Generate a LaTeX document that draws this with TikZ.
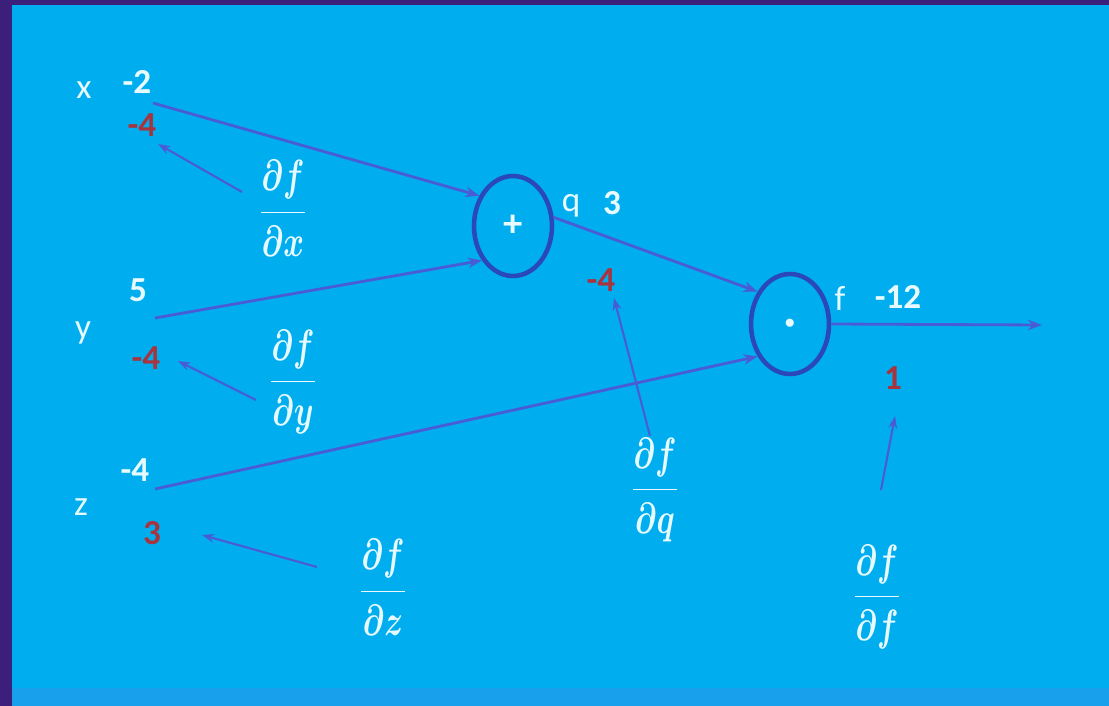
\documentclass[tikz,border=0pt]{standalone}
\usepackage{fontspec}
\usepackage{graphicx}
\setmainfont{Carlito}
\usetikzlibrary{arrows.meta,shapes.geometric}
\definecolor{bg}{HTML}{00AEEF}
\definecolor{framec}{HTML}{3B1F7A}
\definecolor{edge}{HTML}{4A5BD6}
\definecolor{ring}{HTML}{2A48BA}
\definecolor{txt}{HTML}{E6FAFF}
\definecolor{gradc}{HTML}{A8343E}
\definecolor{strip}{HTML}{18A0EC}
\newcommand{\pfrac}[1]{\scalebox{0.72}[1]{\boldmath$\displaystyle\frac{\partial f}{\partial #1}$}}
\begin{document}
\begin{tikzpicture}[x=0.02cm,y=-0.02cm,
  lbl/.style={text=txt,font=\fontsize{20}{22}\selectfont,inner sep=0pt},
  num/.style={text=txt,font=\fontsize{20}{22}\selectfont\bfseries,inner sep=0pt},
  gradv/.style={text=gradc,font=\fontsize{20}{22}\selectfont\bfseries,inner sep=0pt},
  fracn/.style={text=txt,font=\fontsize{25}{27}\selectfont,inner sep=0pt},
  wire/.style={draw=edge,line width=1.6pt,-{Stealth[length=8pt,width=6pt]}},
  back/.style={draw=edge,line width=1.2pt,-{Stealth[length=7pt,width=5pt]}},
  gate/.style={draw=ring,line width=2.6pt,ellipse,minimum width=1.56cm,minimum height=2.0cm,inner sep=0pt,text=txt,font=\fontsize{22}{24}\selectfont\bfseries}]
\useasboundingbox (0,0) rectangle (1109,706);
% background and frame
\fill[framec] (0,0) rectangle (1109,706);
\fill[bg] (12,5) rectangle (1109,688);
\fill[strip] (12,688) rectangle (1109,706);
% gates
\node[gate] (add) at (513,226) {+};
\node[gate,font=\fontsize{13}{15}\selectfont] (mul) at (790,324) {$\bullet$};
% inputs
\node[lbl] (xn) at (84,90) {x};
\node[num] (xv) at (137,82) {-2};
\node[gradv] (xg) at (142,125) {-4};
\coordinate (xo) at (153,103);
\node[lbl] (yn) at (83,333) {y};
\node[num] (yv) at (138,290) {5};
\node[gradv] (yg) at (146,358) {-4};
\coordinate (yo) at (155,318);
\node[lbl] (zn) at (81,507) {z};
\node[num] (zv) at (135,470) {-4};
\node[gradv] (zg) at (152,533) {3};
\coordinate (zo) at (155,489);
% intermediate and output
\node[lbl] (qn) at (571,206) {q};
\node[num] (qv) at (612,203) {3};
\node[gradv] (qg) at (601,280) {-4};
\node[lbl] (fn) at (840,298) {f};
\node[num] (fv) at (898,297) {-12};
\node[gradv] (fg) at (893,378) {1};
\coordinate (out) at (1042,325);
% forward wires
\draw[wire] (xo) -- (add.138);
\draw[wire] (yo) -- (add.228);
\draw[wire] (add.12) -- (mul.135);
\draw[wire] (zo) -- (mul.225);
\draw[wire] (mul.east) -- (out);
% gradient labels
\node[fracn] (dx) at (283,208) {\pfrac{x}};
\node[fracn] (dy) at (293,382) {\pfrac{y}};
\node[fracn] (dz) at (383,587) {\pfrac{z}};
\node[fracn] (dq) at (655,490) {\pfrac{q}};
\node[fracn] (dff) at (877,597) {\pfrac{f}};
% backward arrows
\coordinate (bxs) at (242,192);
\coordinate (bxe) at (158,144);
\draw[back] (bxs) -- (bxe);
\coordinate (bys) at (256,400);
\coordinate (bye) at (178,361);
\draw[back] (bys) -- (bye);
\coordinate (bzs) at (317,567);
\coordinate (bze) at (202,535);
\draw[back] (bzs) -- (bze);
\coordinate (bqs) at (650,436);
\coordinate (bqe) at (614,298);
\draw[back] (bqs) -- (bqe);
\coordinate (bfs) at (881,490);
\coordinate (bfe) at (895,416);
\draw[back] (bfs) -- (bfe);
\end{tikzpicture}
\end{document}
